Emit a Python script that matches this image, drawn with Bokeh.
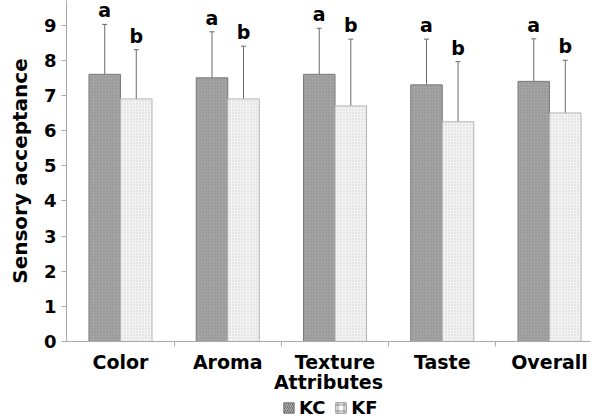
from bokeh.plotting import figure
from bokeh.layouts import column
from bokeh.models import (ColumnDataSource, Range1d, FixedTicker, Whisker, TeeHead,
                          Legend, LegendItem)
from bokeh.core.properties import value
from bokeh.embed import file_html
from bokeh.resources import INLINE

categories = ["Color", "Aroma", "Texture", "Taste", "Overall"]
series = ["KC", "KF"]
kc_mean = [7.6, 7.5, 7.6, 7.3, 7.4]
kc_sd = [1.42, 1.31, 1.31, 1.30, 1.21]
kf_mean = [6.9, 6.9, 6.7, 6.25, 6.5]
kf_sd = [1.40, 1.50, 1.90, 1.71, 1.50]
kc_letters = ["a", "a", "a", "a", "a"]
kf_letters = ["b", "b", "b", "b", "b"]
y_ticks = [0, 1, 2, 3, 4, 5, 6, 7, 8, 9]

FONT = "DejaVu Sans"
NAN = float("nan")
pos = list(range(1, len(categories) + 1))
bw = 0.294
off = bw / 2

kc = ColumnDataSource(dict(
    x=[p - off for p in pos], top=kc_mean,
    upper=[m + s for m, s in zip(kc_mean, kc_sd)],
    lower=[m - s for m, s in zip(kc_mean, kc_sd)],
    lab=kc_letters))
kf = ColumnDataSource(dict(
    x=[p + off for p in pos], top=kf_mean,
    upper=[m + s for m, s in zip(kf_mean, kf_sd)],
    lower=[m - s for m, s in zip(kf_mean, kf_sd)],
    lab=kf_letters))

p = figure(width=599, height=396, output_backend="svg", toolbar_location=None,
           x_range=Range1d(0.4965, 5.382), y_range=Range1d(0, 9.7),
           min_border_left=66, min_border_right=9, min_border_top=0, min_border_bottom=55)
p.background_fill_color = "white"
p.border_fill_color = "white"
p.outline_line_color = None
p.grid.visible = False

p.vbar(x="x", top="top", width=bw, bottom=0, source=kc,
       fill_color="#a4a4a4", line_color="#7a7a7a", line_width=1,
       hatch_pattern="dot", hatch_color="#8c8c8c", hatch_scale=3, hatch_weight=1)
p.vbar(x="x", top="top", width=bw, bottom=0, source=kf,
       fill_color="#f3f3f3", line_color="#b4b4b4", line_width=1,
       hatch_pattern="dot", hatch_color="#cfcfcf", hatch_scale=3, hatch_weight=1)

for src in (kc, kf):
    w = Whisker(base="x", upper="upper", lower="lower", source=src,
                line_color="#6a6a6a", line_width=1,
                upper_head=TeeHead(size=5, line_color="#6a6a6a", line_width=1),
                lower_head=TeeHead(size=5, line_color="#6a6a6a", line_width=1))
    p.add_layout(w)
    p.text(x="x", y="upper", text="lab", source=src, text_font=value(FONT),
           text_font_style="bold", text_font_size="19px", text_color="black",
           text_align="center", text_baseline="bottom", y_offset=-3)

# axes
xa = p.xaxis[0]
xa.ticker = FixedTicker(ticks=pos, minor_ticks=[1.5, 2.5, 3.5, 4.5])
xa.major_label_overrides = {p_: c for p_, c in zip(pos, categories)}
xa.major_tick_line_color = None
xa.minor_tick_in = 0
xa.minor_tick_out = 5
xa.minor_tick_line_color = "#aaaaaa"
xa.axis_line_color = "#aaaaaa"
xa.major_label_text_font = FONT
xa.major_label_text_font_style = "bold"
xa.major_label_text_font_size = "19px"
xa.major_label_text_color = "black"
xa.major_label_standoff = 3
xa.axis_label = "Attributes"
xa.axis_label_text_font = FONT
xa.axis_label_text_font_style = "bold"
xa.axis_label_text_font_size = "19px"
xa.axis_label_text_color = "black"
xa.axis_label_standoff = -5

ya = p.yaxis[0]
ya.ticker = FixedTicker(ticks=y_ticks)
ya.minor_tick_line_color = None
ya.major_tick_in = 0
ya.major_tick_out = 5
ya.major_tick_line_color = "#aaaaaa"
ya.axis_line_color = "#aaaaaa"
ya.major_label_text_font = FONT
ya.major_label_text_font_style = "bold"
ya.major_label_text_font_size = "18px"
ya.major_label_text_color = "black"
ya.major_label_standoff = 5
ya.axis_label = "Sensory acceptance"
ya.axis_label_text_font = FONT
ya.axis_label_text_font_style = "bold"
ya.axis_label_text_font_size = "20px"
ya.axis_label_text_color = "black"
ya.axis_label_standoff = 9

# legend strip (frame aligned with the main plot's frame by the column layout)
lp = figure(width=599, height=24, output_backend="svg", toolbar_location=None,
            x_range=Range1d(0, 1), y_range=Range1d(0, 1),
            x_axis_location=None, y_axis_location=None, min_border=0)
lp.outline_line_color = None
lp.grid.visible = False
lp.background_fill_color = "white"
lp.border_fill_color = "white"
lg_kc = lp.rect(x=[NAN], y=[NAN], width=1, height=1, fill_color="#b4b4b4", line_color="#777777",
                hatch_pattern="/", hatch_color="#666666", hatch_scale=4, hatch_weight=1)
lg_kf = lp.rect(x=[NAN], y=[NAN], width=1, height=1, fill_color="#ffffff", line_color="#8a8a8a",
                hatch_pattern="+", hatch_color="#8a8a8a", hatch_scale=6, hatch_weight=1)
legend = Legend(items=[LegendItem(label=series[0], renderers=[lg_kc]),
                       LegendItem(label=series[1], renderers=[lg_kf])],
                orientation="horizontal", location=(216, 2),
                label_text_font=FONT, label_text_font_style="bold",
                label_text_font_size="18px", label_text_color="black",
                glyph_width=13, glyph_height=13, label_standoff=4, spacing=9,
                padding=0, margin=0, border_line_color=None,
                background_fill_alpha=0, label_height=18)
lp.add_layout(legend, "center")

layout = column(p, lp, spacing=0)
open("out.html", "w").write(file_html(layout, INLINE))
